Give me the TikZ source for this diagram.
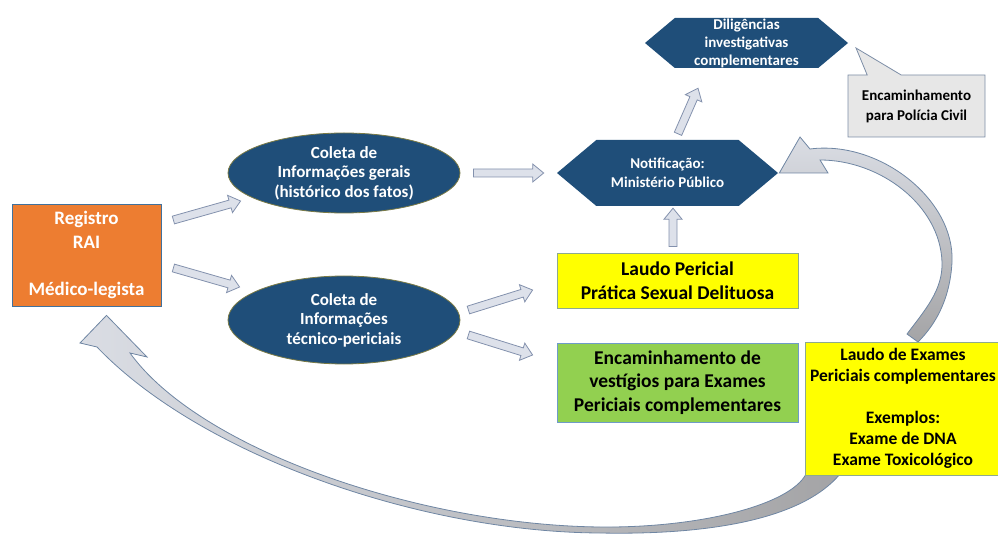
\documentclass[tikz,border=0pt]{standalone}
\usepackage{fontspec}
\setmainfont{Carlito}
\usetikzlibrary{calc,shapes.geometric,shapes.symbols,shapes.callouts,backgrounds}

\definecolor{regorange}{HTML}{ED7D31}
\definecolor{regline}{HTML}{41719C}
\definecolor{navy}{HTML}{1F4E79}
\definecolor{olive}{HTML}{7A7A45}
\definecolor{lemon}{HTML}{FFFF00}
\definecolor{lemonline}{HTML}{8EAA8E}
\definecolor{leaf}{HTML}{92D050}
\definecolor{leafline}{HTML}{6F9BC8}
\definecolor{cloud}{HTML}{E7E7E7}
\definecolor{cloudline}{HTML}{7C8DA6}
\definecolor{arrowfill}{HTML}{DDE1EA}
\definecolor{arrowline}{HTML}{8391AD}
\definecolor{swoopline}{HTML}{6F86A3}
\definecolor{swooplight}{HTML}{DADDE4}
\definecolor{swoopdark}{HTML}{A4A4A6}

\tikzset{
  txt/.style 2 args={font=\bfseries\fontsize{#1}{#2}\selectfont, align=center},
  regbox/.style={rectangle, fill=regorange, draw=regline, line width=0.8pt, text=white, txt={19}{23.5}},
  ellip/.style={ellipse, fill=navy, draw=olive, line width=0.8pt, text=white, inner sep=0pt, txt={17}{19.5}},
  hexa/.style={signal, signal to=west and east, signal pointer angle=80, fill=navy, text=white, inner sep=0pt, txt={15}{19}},
  callbox/.style={rectangle callout, fill=cloud, draw=cloudline, line width=0.8pt, txt={15}{20}},
  lemonbox/.style={rectangle, fill=lemon, draw=lemonline, line width=0.8pt, txt={19.5}{23.5}},
  leafbox/.style={rectangle, fill=leaf, draw=leafline, line width=0.8pt, txt={19.5}{23.5}},
  swoop/.style={draw=swoopline, line width=0.8pt, line join=miter},
  blockarrow/.style={draw=arrowline, fill=arrowfill, line width=0.8pt, line join=miter,
    to path={let \p1=(\tikztostart), \p2=(\tikztotarget),
      \n1={atan2(\y2-\y1,\x2-\x1)} in
      ($(\p1)+(\n1+90:4pt)$) -- ($(\p2)+(\n1+180:11pt)+(\n1+90:4pt)$)
      -- ($(\p2)+(\n1+180:11pt)+(\n1+90:9pt)$) -- (\p2)
      -- ($(\p2)+(\n1+180:11pt)+(\n1-90:9pt)$) -- ($(\p2)+(\n1+180:11pt)+(\n1-90:4pt)$)
      -- ($(\p1)+(\n1-90:4pt)$) -- cycle}},
}

\begin{document}
\begin{tikzpicture}[x=1pt,y=-1pt]
  \useasboundingbox (0,0) rectangle (998,534);

  % boxes of the flow
  \node[regbox, minimum width=149, minimum height=102] (reg) at (86.5,255)
    {Registro\\RAI\\[23.5pt]Médico-legista};
  \node[ellip, minimum width=232, minimum height=80] (col1) at (344,173)
    {Coleta de\\Informações gerais\\(histórico dos fatos)};
  \node[ellip, minimum width=232, minimum height=88] (col2) at (344,320)
    {Coleta de\\Informações\\técnico-periciais};
  \node[hexa, minimum width=221, minimum height=66] (notif) at (667.5,173)
    {Notificação:\\Ministério Público};
  \node[hexa, minimum width=203, minimum height=50, txt={15}{18}] (dilig) at (746.5,43)
    {Diligências\\investigativas\\complementares};
  \node[callbox, callout absolute pointer={(856,48)}, callout pointer width=34,
    minimum width=137, minimum height=62] (pol) at (916.5,106)
    {Encaminhamento\\para Polícia Civil};
  \node[lemonbox, minimum width=241, minimum height=55] (laudo) at (677.5,280.5)
    {Laudo Pericial\\Prática Sexual Delituosa};
  \node[leafbox, minimum width=241, minimum height=79] (encam) at (677.5,382.5)
    {Encaminhamento de\\vestígios para Exames\\Periciais complementares};
  \node[lemonbox, minimum width=196, minimum height=133, txt={17.5}{21}] (lauex) at (903,408.5)
    {Laudo de Exames\\Periciais complementares\\[21pt]Exemplos:\\Exame de DNA\\Exame Toxicológico};

  % straight block arrows
  \draw[blockarrow] ([shift={(12,-35)}]reg.east) to ([shift={(13,28)}]col1.west);
  \draw[blockarrow] ([shift={(12,13)}]reg.east) to ([shift={(12,-33)}]col2.west);
  \draw[blockarrow] ([xshift=13]col1.east) to ([xshift=-13]notif.west);
  \draw[blockarrow] ([shift={(8,-10)}]col2.east) to ([shift={(-24,9.5)}]laudo.west);
  \draw[blockarrow] ([shift={(8,15)}]col2.east) to ([shift={(-24,-27.5)}]encam.west);
  \draw[blockarrow] ([shift={(-4.5,-6)}]laudo.north) to ([shift={(5.5,2)}]notif.south);
  \draw[blockarrow] ([shift={(10.5,-6)}]notif.north) to ([shift={(-48.5,20)}]dilig.south);

  % curved arrows going back
  \coordinate (c1tip) at ([xshift=1]notif.east);
  \coordinate (c2tip) at ([shift={(20,9)}]reg.south);
  \begin{scope}[on background layer]
    \draw[swoop, top color=swooplight, bottom color=swoopdark]
      (c1tip) -- (800,137) -- (810,149) .. controls (880,140) and (955,200) .. (952,262)
      .. controls (950,300) and (935,325) .. (918,342) -- (907,334)
      .. controls (925,310) and (943,290) .. (942,262)
      .. controls (940,205) and (880,160) .. (820,160) -- (828,173) -- cycle;
    \draw[swoop, left color=swooplight, right color=swoopdark]
      (c2tip) -- (147,357) -- (130,353) .. controls (200,450) and (420,525) .. (600,527)
      .. controls (700,528) and (790,505) .. (806,474) -- (840,474)
      .. controls (800,522) and (700,535) .. (600,533)
      .. controls (420,532) and (200,455) .. (97,347) -- (80,343) -- cycle;
  \end{scope}
\end{tikzpicture}
\end{document}
